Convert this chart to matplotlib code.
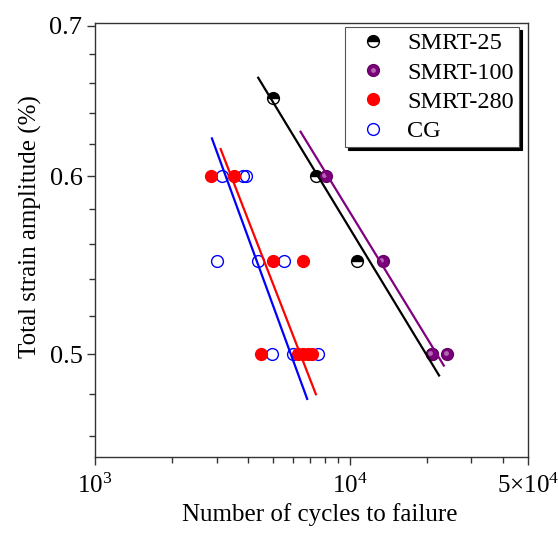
import matplotlib
matplotlib.use("Agg")
import matplotlib.pyplot as plt
from matplotlib.ticker import FixedLocator, FixedFormatter, NullFormatter
from matplotlib.transforms import offset_copy
from matplotlib.legend_handler import HandlerTuple

plt.rcParams['font.family'] = ['Liberation Serif', 'DejaVu Serif']
plt.rcParams['mathtext.fontset'] = 'custom'
plt.rcParams['mathtext.rm'] = 'Liberation Serif'

# --- data (cycles to failure, strain amplitude %) ---
smrt25_N = [4990, 7360, 10650, 20970]
smrt25_eps = [0.65, 0.60, 0.55, 0.50]

smrt100_N = [8050, 13440, 20970, 24070]
smrt100_eps = [0.60, 0.55, 0.50, 0.50]

smrt280_N = [2850, 3520, 5000, 6560, 4480, 6250, 6540, 6840, 7100]
smrt280_eps = [0.60, 0.60, 0.55, 0.55, 0.50, 0.50, 0.50, 0.50, 0.50]

cg_N = [3160, 3815, 3900, 3000, 4370, 5510, 4930, 5990, 7510]
cg_eps = [0.60, 0.60, 0.60, 0.55, 0.55, 0.55, 0.50, 0.50, 0.50]

# fitted lines (end points)
fit25_N = [4369, 22390]
fit25_eps = [0.6637, 0.4892]
fit100_N = [6406, 23370]
fit100_eps = [0.6280, 0.4942]
fit280_N = [3112, 7356]
fit280_eps = [0.6169, 0.4799]
fitcg_N = [2876, 6800]
fitcg_eps = [0.6237, 0.4776]

x_ticks = [1e3, 1e4, 5e4]
x_labels = [r'$\mathregular{10^3}$', r'$\mathregular{10^4}$', r'$\mathregular{5{\times}10^4}$']
y_ticks = [0.5, 0.6, 0.7]
y_labels = ['0.5', '0.6', '0.7']

fig = plt.figure(figsize=(5.58, 5.38), dpi=100)
ax = fig.add_axes([95/558, 1 - 457/538, 433/558, 434/538])

ms = 8.5
h25, = ax.plot(smrt25_N, smrt25_eps, 'o', ms=ms, fillstyle='top', mfc='black',
               mfcalt='white', mec='black', mew=1, zorder=3)
h100, = ax.plot(smrt100_N, smrt100_eps, 'o', ms=ms, mfc='#7a007a', mec='#660066',
                mew=1, zorder=4)
# small highlight so the purple markers look like shaded balls
shift = offset_copy(ax.transData, fig=fig, x=-1.0, y=1.0, units='points')
h100hl, = ax.plot(smrt100_N, smrt100_eps, 'o', ms=3.5, mfc='#b066b0', mec='none',
                  transform=shift, zorder=4)
hcg, = ax.plot(cg_N, cg_eps, 'o', ms=ms, mfc='none', mec='#0000ff', mew=1, zorder=3)
h280, = ax.plot(smrt280_N, smrt280_eps, 'o', ms=ms, mfc='#ff0000', mec='#ff0000',
                mew=1, zorder=4)

ax.plot(fit25_N, fit25_eps, '-', color='black', lw=1.6, zorder=5)
ax.plot(fit100_N, fit100_eps, '-', color='#800080', lw=1.6, zorder=5)
ax.plot(fit280_N, fit280_eps, '-', color='#ff0000', lw=1.6, zorder=5)
ax.plot(fitcg_N, fitcg_eps, '-', color='#0000ff', lw=1.6, zorder=5)

ax.set_xscale('log')
ax.set_yscale('log')
ax.set_xlim(1e3, 5e4)
ax.set_ylim(0.45, 0.702)

ax.xaxis.set_major_locator(FixedLocator(x_ticks))
ax.xaxis.set_major_formatter(FixedFormatter(x_labels))
ax.xaxis.set_minor_locator(FixedLocator([2e3, 3e3, 4e3, 5e3, 6e3, 7e3, 8e3, 9e3, 2e4, 3e4, 4e4]))
ax.xaxis.set_minor_formatter(NullFormatter())
ax.yaxis.set_major_locator(FixedLocator(y_ticks))
ax.yaxis.set_major_formatter(FixedFormatter(y_labels))
ax.yaxis.set_minor_locator(FixedLocator([0.46, 0.48, 0.52, 0.54, 0.56, 0.58,
                                         0.62, 0.64, 0.66, 0.68]))
ax.yaxis.set_minor_formatter(NullFormatter())

ax.tick_params(which='major', direction='out', length=6, width=1, color='#333333')
ax.tick_params(which='minor', direction='out', length=4, width=1, color='#333333')
ax.tick_params(axis='x', which='major', labelsize=18, pad=6)
ax.tick_params(axis='y', which='major', labelsize=19, pad=3)
for s in ax.spines.values():
    s.set_color('#333333')
    s.set_linewidth(1)

ax.set_xlabel('Number of cycles to failure', fontsize=18)
ax.xaxis.set_label_coords(0.52, -0.105)
ax.set_ylabel('Total strain amplitude (%)', fontsize=18)
ax.yaxis.set_label_coords(-0.122, 0.53)

leg = ax.legend([h25, (h100, h100hl), h280, hcg],
                ['SMRT-25', 'SMRT-100', 'SMRT-280', 'CG'],
                handler_map={tuple: HandlerTuple(ndivide=1, pad=0)},
                loc='upper right', bbox_to_anchor=(0.979, 0.99), borderaxespad=0,
                fontsize=17.5, frameon=True, fancybox=False,
                shadow={'color': 'black', 'alpha': 1}, framealpha=1,
                edgecolor='#555555', handlelength=1.9, handletextpad=0.45,
                borderpad=0.2, labelspacing=0.3)
leg.get_frame().set_linewidth(0.8)

fig.savefig('out.png', dpi=100)
